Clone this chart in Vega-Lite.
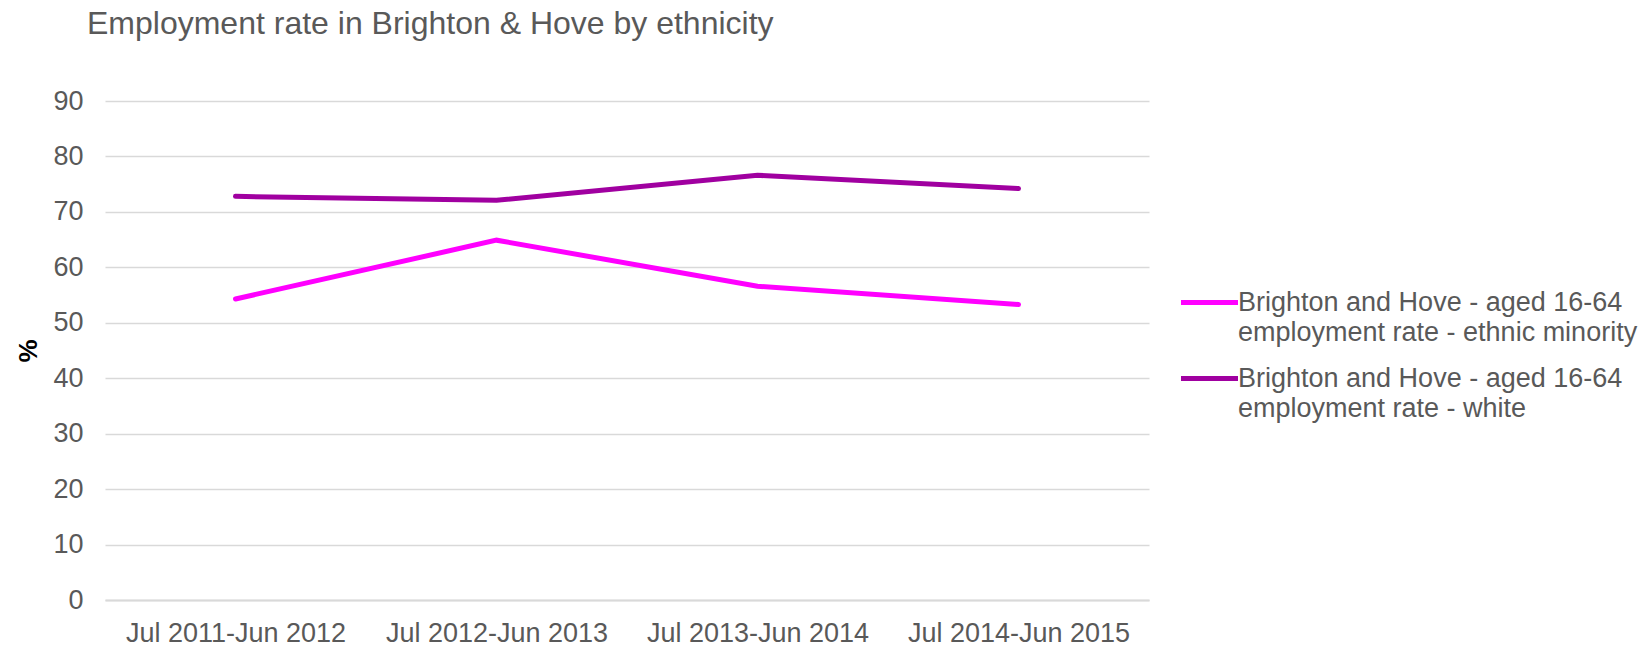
{
  "$schema": "https://vega.github.io/schema/vega-lite/v6.json",
  "autosize": {"type": "none"},
  "width": 1044,
  "height": 499,
  "padding": {"left": 105, "top": 101, "right": 499, "bottom": 48},
  "background": "white",
  "title": {
    "text": "Employment rate in Brighton & Hove by ethnicity",
    "anchor": "start",
    "frame": "group",
    "dx": -18,
    "offset": 46,
    "font": "Liberation Sans",
    "fontSize": 32,
    "fontWeight": "normal",
    "color": "#595959"
  },
  "data": {
    "values": [
      {"period": "Jul 2011-Jun 2012", "series": "Brighton and Hove - aged 16-64|employment rate - ethnic minority", "rate": 54.3},
      {"period": "Jul 2012-Jun 2013", "series": "Brighton and Hove - aged 16-64|employment rate - ethnic minority", "rate": 64.9},
      {"period": "Jul 2013-Jun 2014", "series": "Brighton and Hove - aged 16-64|employment rate - ethnic minority", "rate": 56.6},
      {"period": "Jul 2014-Jun 2015", "series": "Brighton and Hove - aged 16-64|employment rate - ethnic minority", "rate": 53.3},
      {"period": "Jul 2011-Jun 2012", "series": "Brighton and Hove - aged 16-64|employment rate - white", "rate": 72.8},
      {"period": "Jul 2012-Jun 2013", "series": "Brighton and Hove - aged 16-64|employment rate - white", "rate": 72.1},
      {"period": "Jul 2013-Jun 2014", "series": "Brighton and Hove - aged 16-64|employment rate - white", "rate": 76.6},
      {"period": "Jul 2014-Jun 2015", "series": "Brighton and Hove - aged 16-64|employment rate - white", "rate": 74.2}
    ]
  },
  "mark": {"type": "line", "strokeWidth": 5, "strokeCap": "round", "strokeJoin": "miter"},
  "encoding": {
    "x": {
      "field": "period",
      "type": "nominal",
      "scale": {"type": "point", "padding": 0.5},
      "axis": {
        "title": null,
        "labelAngle": 0,
        "labelFont": "Liberation Sans",
        "labelFontSize": 27,
        "labelColor": "#595959",
        "labelPadding": 20,
        "labelLimit": 0,
        "ticks": false,
        "domain": true,
        "domainColor": "#d9d9d9",
        "domainWidth": 2,
        "grid": false
      }
    },
    "y": {
      "field": "rate",
      "type": "quantitative",
      "scale": {"domain": [0, 90], "nice": false},
      "axis": {
        "title": "%",
        "titleFont": "Liberation Sans",
        "titleFontSize": 26,
        "titleFontWeight": "bold",
        "titleColor": "#000000",
        "titlePadding": 11,
        "values": [0, 10, 20, 30, 40, 50, 60, 70, 80, 90],
        "labelFont": "Liberation Sans",
        "labelFontSize": 27,
        "labelColor": "#595959",
        "labelPadding": 22,
        "ticks": false,
        "domain": false,
        "grid": true,
        "gridColor": "#d9d9d9",
        "gridWidth": 1.5
      }
    },
    "color": {
      "field": "series",
      "type": "nominal",
      "scale": {
        "domain": ["Brighton and Hove - aged 16-64|employment rate - ethnic minority", "Brighton and Hove - aged 16-64|employment rate - white"],
        "range": ["#ff00ff", "#a000a0"]
      },
      "legend": {
        "title": null,
        "orient": "none",
        "legendX": 1073,
        "legendY": 170,
        "symbolType": "stroke",
        "symbolSize": 3250,
        "symbolStrokeWidth": 5,
        "labelExpr": "split(datum.label, '|')",
        "labelFont": "Liberation Sans",
        "labelFontSize": 27,
        "labelColor": "#595959",
        "labelLimit": 500,
        "labelOffset": -3,
        "rowPadding": 1
      }
    }
  },
  "config": {"view": {"stroke": null}, "style": {"guide-label": {"lineHeight": 30}}}
}
